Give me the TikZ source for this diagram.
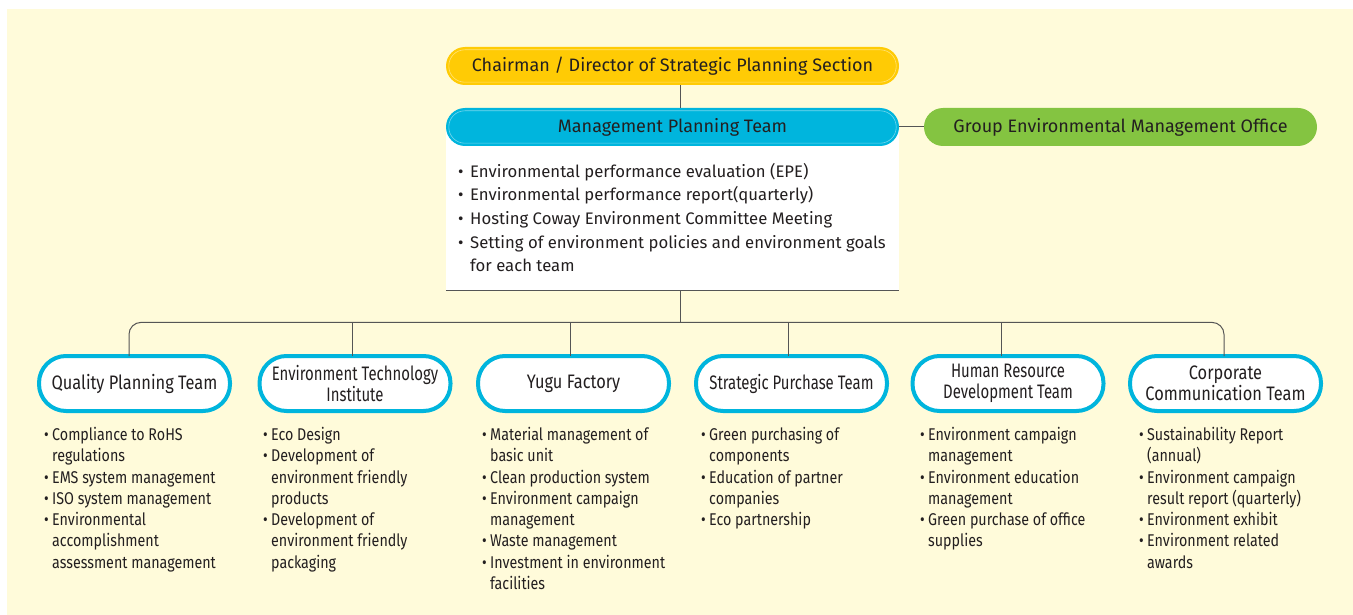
\documentclass[tikz,border=0pt]{standalone}
\usepackage{fontspec}
\setmainfont{Fira Sans}
\newfontfamily\cond[FakeStretch=0.84]{Fira Sans}
\newfontfamily\condn[FakeStretch=0.765]{Fira Sans}
\usetikzlibrary{calc}
\definecolor{bg}{RGB}{255,251,218}
\definecolor{cyell}{RGB}{255,203,5}
\definecolor{tcyan}{RGB}{0,181,221}
\definecolor{cgreen}{RGB}{132,196,65}
\definecolor{txt}{RGB}{35,31,32}
\definecolor{lgray}{RGB}{85,85,85}
\newcommand{\bul}{\makebox[8pt][l]{\textbullet}}
\newcommand{\ind}{\hspace*{8pt}}
\newcommand{\bigbul}{\makebox[12pt][l]{\textbullet}}
\newcommand{\bigind}{\hspace*{12pt}}
\begin{document}
\begin{tikzpicture}[x=1pt,y=-1pt,
  pill/.style={rounded corners=19pt, minimum height=38pt, inner sep=0pt, text=txt,
    font=\fontsize{18}{20}\selectfont},
  team/.style={draw=tcyan, line width=4pt, fill=white, rounded corners=27pt,
    minimum width=191pt, minimum height=55pt, inner sep=0pt, align=center, text=txt,
    font=\cond\fontsize{19.5}{21}\selectfont},
  teamn/.style={team, font=\condn\fontsize{19.5}{21}\selectfont},
  desc/.style={anchor=north west, inner sep=0pt, align=left, text=txt,
    font=\cond\fontsize{17}{21.3}\selectfont},
  conn/.style={draw=lgray, line width=1pt},
  inline/.style={draw=white, opacity=0.45, line width=0.6pt, rounded corners=16pt}]
\useasboundingbox (0,0) rectangle (1353,615);
\fill[bg] (7,9) rectangle (1353,615);

% top nodes
\node[pill, fill=cyell, minimum width=453pt] (chair) at (672.5,66) {Chairman / Director of Strategic Planning Section};
\node[fill=white, minimum width=453pt, minimum height=163pt, inner sep=0pt, anchor=north] (box) at (672.5,127) {};
\draw[conn] (box.south west) -- (box.south east);
\node[pill, fill=tcyan, minimum width=453pt] (mpt) at (672.5,127) {Management Planning Team};
\node[pill, fill=cgreen, minimum width=393pt] (geo) at (1120.5,127) {Group Environmental Management Office};
\draw[inline] ([shift={(3,3)}]chair.north west) rectangle ([shift={(-3,-3)}]chair.south east);
\draw[inline] ([shift={(3,3)}]mpt.north west) rectangle ([shift={(-3,-3)}]mpt.south east);

\node[anchor=north west, inner sep=0pt, align=left, text=txt, font=\fontsize{16.7}{23.6}\selectfont] (mptd) at (458,163)
{\bigbul Environmental performance evaluation (EPE)\\
 \bigbul Environmental performance report(quarterly)\\
 \bigbul Hosting Coway Environment Committee Meeting\\
 \bigbul Setting of environment policies and environment goals\\
 \bigind for each team};

% teams
\node[team] (t1) at (134.5,383.5) {Quality Planning Team};
\node[teamn] (t2) at (355,383.5) {Environment Technology\\Institute};
\node[team] (t3) at (573.5,383.5) {Yugu Factory};
\node[teamn] (t4) at (791.5,383.5) {Strategic Purchase Team};
\node[teamn] (t5) at (1008,383.5) {Human Resource\\Development Team};
\node[team] (t6) at (1225.5,383.5) {Corporate\\Communication Team};

% connectors
\draw[conn] ([xshift=7.5pt]chair.south) -- ([xshift=7.5pt]mpt.north);
\draw[conn] (mpt.east) -- (geo.west);
\coordinate (bus) at ($(box.south)+(7.5,32)$);
\draw[conn] ([xshift=7.5pt]box.south) -- (bus);
\draw[conn, rounded corners=12pt] ([xshift=-5.5pt,yshift=-2pt]t1.north) |- (bus) -| ([xshift=-1.5pt,yshift=-2pt]t6.north);
\draw[conn] ([xshift=-3pt,yshift=-2pt]t2.north) -- ([xshift=-3pt]t2.north |- bus);
\draw[conn] ([xshift=-3.5pt,yshift=-2pt]t3.north) -- ([xshift=-3.5pt]t3.north |- bus);
\draw[conn] ([xshift=-3.5pt,yshift=-2pt]t4.north) -- ([xshift=-3.5pt]t4.north |- bus);
\draw[conn] ([xshift=-7pt,yshift=-2pt]t5.north) -- ([xshift=-7pt]t5.north |- bus);

% descriptions
\node[desc] (d1) at (44,427) {\bul Compliance to RoHS\\ \ind regulations\\ \bul EMS system management\\ \bul ISO system management\\ \bul Environmental\\ \ind accomplishment\\ \ind assessment management};
\node[desc] (d2) at (263,427) {\bul Eco Design\\ \bul Development of\\ \ind environment friendly\\ \ind products\\ \bul Development of\\ \ind environment friendly\\ \ind packaging};
\node[desc] (d3) at (482,427) {\bul Material management of\\ \ind basic unit\\ \bul Clean production system\\ \bul Environment campaign\\ \ind management\\ \bul Waste management\\ \bul Investment in environment\\ \ind facilities};
\node[desc] (d4) at (701,427) {\bul Green purchasing of\\ \ind components\\ \bul Education of partner\\ \ind companies\\ \bul Eco partnership};
\node[desc] (d5) at (920,427) {\bul Environment campaign\\ \ind management\\ \bul Environment education\\ \ind management\\ \bul Green purchase of office\\ \ind supplies};
\node[desc] (d6) at (1139,427) {\bul Sustainability Report\\ \ind (annual)\\ \bul Environment campaign\\ \ind result report (quarterly)\\ \bul Environment exhibit\\ \bul Environment related\\ \ind awards};
\end{tikzpicture}
\end{document}
